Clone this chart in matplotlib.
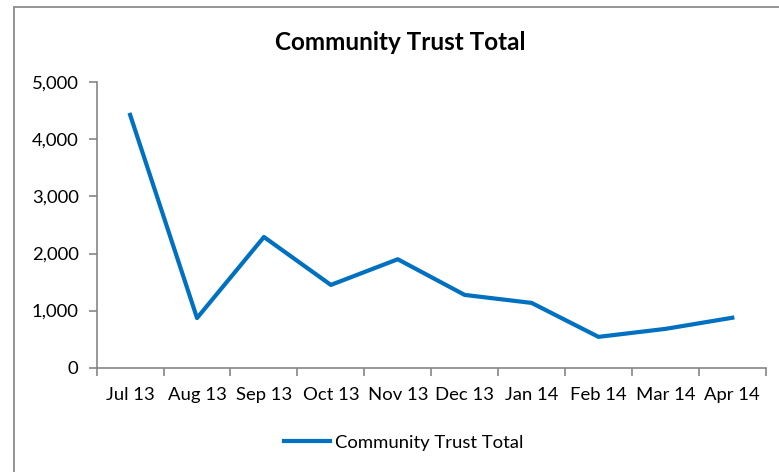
import matplotlib.pyplot as plt
from matplotlib.patches import Rectangle
from matplotlib.ticker import FuncFormatter

months = ['Jul 13', 'Aug 13', 'Sep 13', 'Oct 13', 'Nov 13', 'Dec 13',
          'Jan 14', 'Feb 14', 'Mar 14', 'Apr 14']
totals = [4430, 870, 2290, 1450, 1900, 1275, 1135, 540, 680, 875]

plt.rcParams['font.family'] = ['Lato', 'DejaVu Sans']

fig = plt.figure(figsize=(7.79, 4.72), dpi=100)
# chart area outline
fig.patches.append(Rectangle((14 / 779, -0.1), 1.0, (472 - 7) / 472 + 0.1,
                             transform=fig.transFigure, fill=False,
                             edgecolor='#8c8c8c', linewidth=1.3))

ax = fig.add_axes([0.1241, 0.221, 0.983 - 0.1241, 0.8256 - 0.221])
x = list(range(len(months)))
ax.plot(x, totals, color='#0070C0', linewidth=3.0, label='Community Trust Total')

ax.set_xlim(-0.5, len(months) - 0.5)
ax.set_ylim(0, 5000)
ax.set_yticks(range(0, 5001, 1000))
ax.yaxis.set_major_formatter(FuncFormatter(lambda v, p: f'{int(v):,}'))
ax.set_xticks(x)
ax.set_xticklabels(months)
ax.set_xticks([i - 0.5 for i in range(len(months) + 1)], minor=True)

for s in ['top', 'right']:
    ax.spines[s].set_visible(False)
for s in ['left', 'bottom']:
    ax.spines[s].set_color('#868686')
    ax.spines[s].set_linewidth(1.2)

ax.tick_params(axis='x', which='major', length=0, pad=14, labelsize=13.3, colors='black')
ax.tick_params(axis='x', which='minor', length=6, width=1.2, color='#868686')
ax.tick_params(axis='y', length=6, width=1.2, color='#868686', pad=7,
               labelsize=13.3, labelcolor='black')

fig.text(0.514, 0.911, 'Community Trust Total', ha='center', va='center',
         fontsize=17.5, fontweight='bold')

fig.legend(loc='center', bbox_to_anchor=(0.518, 0.062), frameon=False,
           fontsize=13.3, handlelength=2.5, handletextpad=0.25)

fig.savefig('out.png', dpi=100)
